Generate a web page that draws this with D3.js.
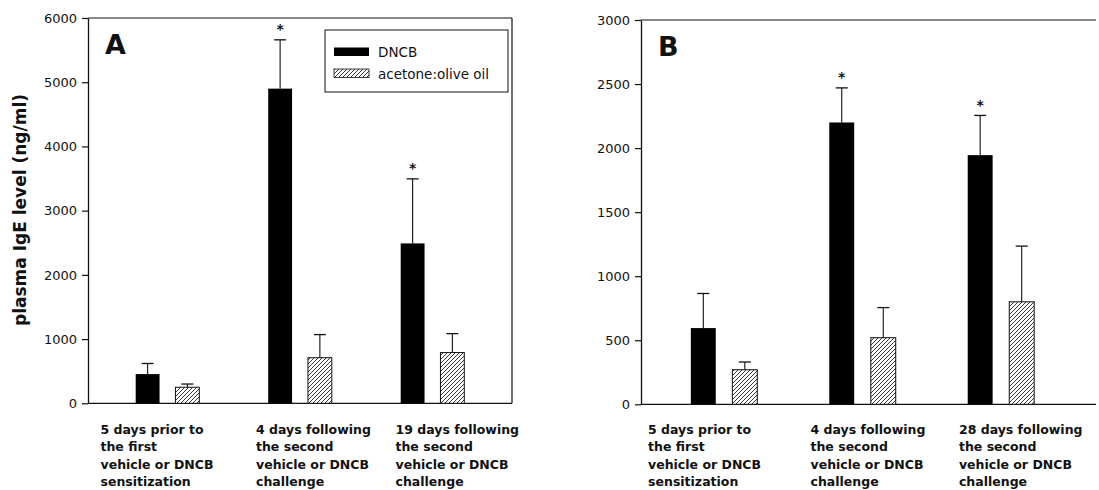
<!DOCTYPE html>
<html>
<head>
<meta charset="utf-8">
<script src="https://cdn.jsdelivr.net/npm/d3@7"></script>
<style>
  html, body { margin: 0; padding: 0; background: #fff; }
  svg { display: block; }
</style>
</head>
<body>
<div id="chart"></div>
<script>
// ---------- data ----------
const seriesNames = ["DNCB", "acetone:olive oil"];

const categoriesA = [
  ["5 days prior to", "the first", "vehicle or DNCB", "sensitization"],
  ["4 days following", "the second", "vehicle or DNCB", "challenge"],
  ["19 days following", "the second", "vehicle or DNCB", "challenge"]
];
const categoriesB = [
  ["5 days prior to", "the first", "vehicle or DNCB", "sensitization"],
  ["4 days following", "the second", "vehicle or DNCB", "challenge"],
  ["28 days following", "the second", "vehicle or DNCB", "challenge"]
];

const dncbA = [455, 4900, 2490];
const dncbErrA = [165, 760, 1005];
const vehicleA = [250, 710, 790];
const vehicleErrA = [50, 360, 295];
const signifA = [false, true, true];

const dncbB = [595, 2200, 1945];
const dncbErrB = [270, 270, 310];
const vehicleB = [270, 520, 800];
const vehicleErrB = [60, 235, 435];
const signifB = [false, true, true];

const ticksA = [0, 1000, 2000, 3000, 4000, 5000, 6000];
const ticksB = [0, 500, 1000, 1500, 2000, 2500, 3000];

const yTitle = "plasma IgE level (ng/ml)";

// ---------- drawing ----------
const W = 1099, H = 490;
const FONT = "'DejaVu Sans', sans-serif";
const INK = "#111";

const svg = d3.select("#chart").append("svg")
  .attr("width", W).attr("height", H)
  .attr("viewBox", `0 0 ${W} ${H}`);
svg.append("rect").attr("width", W).attr("height", H).attr("fill", "#fff");

const defs = svg.append("defs");
const pat = defs.append("pattern")
  .attr("id", "hatch")
  .attr("patternUnits", "userSpaceOnUse")
  .attr("width", 4).attr("height", 4);
pat.append("rect").attr("width", 4).attr("height", 4).attr("fill", "#fff");
pat.append("path")
  .attr("d", "M-1,1 l2,-2 M0,4 l4,-4 M3,5 l2,-2")
  .attr("stroke", "#222").attr("stroke-width", 0.9);

function drawPanel(cfg) {
  const { left, right, frameRight, top, bottom, max, ticks, cats, dncb, dncbErr, veh, vehErr, signif,
          letter, labelOffsets, showLegend, drawRight } = cfg;

  const x = d3.scalePoint().domain(d3.range(cats.length)).range([left, right]).padding(0.6);
  const y = d3.scaleLinear().domain([0, max]).range([bottom, top]);
  const step = x.step();
  const barW = step * 0.18, gap = step * 0.06;

  const g = svg.append("g");

  // frame lines
  g.append("line").attr("x1", left).attr("x2", frameRight).attr("y1", top).attr("y2", top)
    .attr("stroke", INK).attr("stroke-width", 1.2);
  g.append("line").attr("x1", left).attr("x2", frameRight).attr("y1", bottom).attr("y2", bottom)
    .attr("stroke", INK).attr("stroke-width", 1.3);
  if (drawRight) {
    g.append("line").attr("x1", frameRight).attr("x2", frameRight).attr("y1", top).attr("y2", bottom)
      .attr("stroke", INK).attr("stroke-width", 1.2);
  }

  // y axis
  const axis = d3.axisLeft(y).tickValues(ticks).tickSize(6).tickSizeOuter(0).tickPadding(5)
    .tickFormat(d3.format("d"));
  const ag = g.append("g").attr("transform", `translate(${left},0)`).call(axis);
  ag.select(".domain").attr("stroke", INK).attr("stroke-width", 1.3);
  ag.selectAll(".tick line").attr("stroke", INK).attr("stroke-width", 1.2);
  ag.selectAll(".tick text").attr("font-family", FONT).attr("font-size", 13).attr("fill", INK);

  const groups = cats.map((c, i) => ({ i, dncb: dncb[i], dErr: dncbErr[i], veh: veh[i], vErr: vehErr[i], sig: signif[i] }));

  // DNCB bars
  g.selectAll(".dncb").data(groups).join("rect")
    .attr("x", d => x(d.i) - gap - barW)
    .attr("y", d => y(d.dncb))
    .attr("width", barW)
    .attr("height", d => y(0) - y(d.dncb))
    .attr("fill", "#000");
  // vehicle bars
  g.selectAll(".veh").data(groups).join("rect")
    .attr("x", d => x(d.i) + gap)
    .attr("y", d => y(d.veh))
    .attr("width", barW)
    .attr("height", d => y(0) - y(d.veh))
    .attr("fill", "url(#hatch)")
    .attr("stroke", INK).attr("stroke-width", 1);

  // error bars (upper only)
  const errs = [];
  groups.forEach(d => {
    errs.push({ cx: x(d.i) - gap - barW / 2, v: d.dncb, e: d.dErr });
    errs.push({ cx: x(d.i) + gap + barW / 2, v: d.veh, e: d.vErr });
  });
  g.selectAll(".errv").data(errs).join("line")
    .attr("x1", d => d.cx).attr("x2", d => d.cx)
    .attr("y1", d => y(d.v)).attr("y2", d => y(d.v + d.e))
    .attr("stroke", INK).attr("stroke-width", 1.1);
  g.selectAll(".errc").data(errs).join("line")
    .attr("x1", d => d.cx - 6).attr("x2", d => d.cx + 6)
    .attr("y1", d => y(d.v + d.e)).attr("y2", d => y(d.v + d.e))
    .attr("stroke", INK).attr("stroke-width", 1.3);

  // significance stars
  g.selectAll(".star").data(groups.filter(d => d.sig)).join("text")
    .attr("x", d => x(d.i) - gap - barW / 2)
    .attr("y", d => y(d.dncb + d.dErr) - 5.5)
    .attr("text-anchor", "middle")
    .attr("font-family", FONT).attr("font-weight", "bold").attr("font-size", 14)
    .attr("fill", INK)
    .text("*");

  // panel letter
  g.append("text").attr("x", left + 17).attr("y", top + 35.5)
    .attr("font-family", FONT).attr("font-weight", "bold").attr("font-size", 27)
    .attr("fill", INK).text(letter);

  // category labels
  cats.forEach((lines, i) => {
    const t = g.append("text")
      .attr("font-family", FONT).attr("font-weight", "bold").attr("font-size", 12.5)
      .attr("fill", INK);
    lines.forEach((ln, k) => {
      t.append("tspan").attr("x", x(i) + labelOffsets[i]).attr("y", 434 + k * 17.4).text(ln);
    });
  });

  // legend
  if (showLegend) {
    const lx = frameRight - 187, ly = top + 12;
    const lg = g.append("g");
    lg.append("rect").attr("x", lx).attr("y", ly).attr("width", 183).attr("height", 62)
      .attr("fill", "#fff").attr("stroke", INK).attr("stroke-width", 1);
    seriesNames.forEach((name, k) => {
      const yy = ly + 17.5 + k * 21.5;
      lg.append("rect").attr("x", lx + 9).attr("y", yy).attr("width", 35).attr("height", 8.5)
        .attr("fill", k === 0 ? "#000" : "url(#hatch)")
        .attr("stroke", INK).attr("stroke-width", k === 0 ? 0 : 0.8);
      lg.append("text").attr("x", lx + 53).attr("y", yy + 9.5)
        .attr("font-family", FONT).attr("font-size", 13.5).attr("fill", INK).text(name);
    });
  }
}

drawPanel({
  left: 88, right: 512, frameRight: 512, top: 18, bottom: 403.3, max: 6000, ticks: ticksA,
  cats: categoriesA, dncb: dncbA, dncbErr: dncbErrA, veh: vehicleA, vehErr: vehicleErrA,
  signif: signifA, letter: "A", labelOffsets: [-67, -44, -37], showLegend: true, drawRight: true
});
drawPanel({
  left: 641, right: 1084, frameRight: 1096, top: 20, bottom: 404.3, max: 3000, ticks: ticksB,
  cats: categoriesB, dncb: dncbB, dncbErr: dncbErrB, veh: vehicleB, vehErr: vehicleErrB,
  signif: signifB, letter: "B", labelOffsets: [-76, -52, -42], showLegend: false, drawRight: false
});

// y axis title
svg.append("text")
  .attr("transform", "translate(26,210) rotate(-90)")
  .attr("text-anchor", "middle")
  .attr("font-family", FONT).attr("font-weight", "bold").attr("font-size", 17)
  .attr("fill", INK)
  .text(yTitle);
</script>
</body>
</html>
